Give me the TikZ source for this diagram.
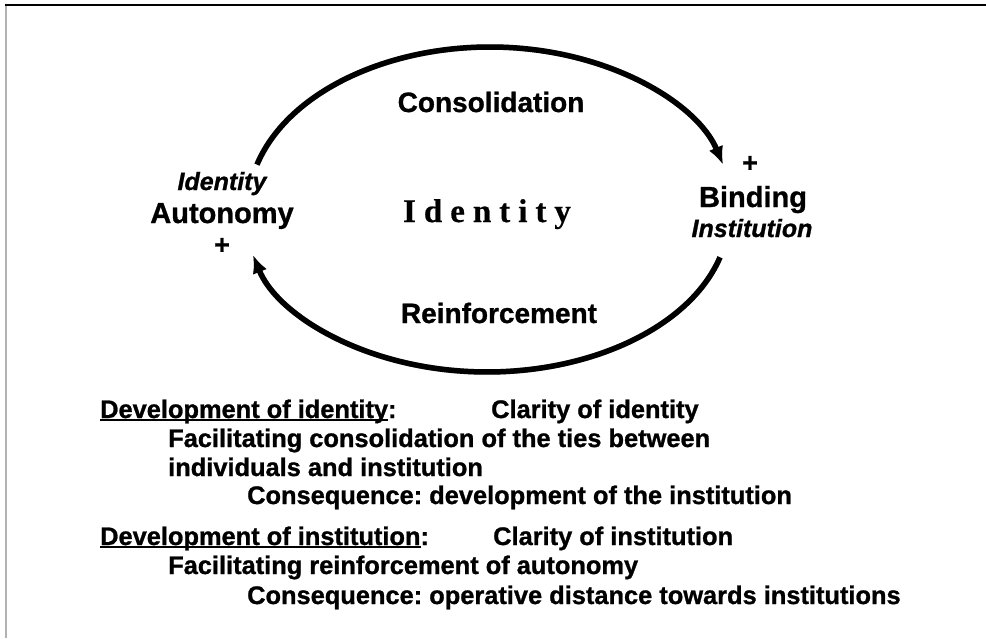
\documentclass[tikz,border=0pt]{standalone}
\usepackage{fontspec}
\setmainfont{Liberation Sans}
\newfontfamily\heavysans[FakeBold=1]{Liberation Sans}
\newfontfamily\idserif[FakeBold=0.5]{Liberation Serif}
\usetikzlibrary{arrows.meta}
\frenchspacing
% underline that sits just under the baseline, crossing the descenders
\newcommand\baseul[1]{\setbox0\hbox{#1}\rlap{\rule[-3pt]{\wd0}{1.8pt}}\box0}
% widely spaced serif word
\newcommand\widespaced[1]{\spaceskip=8pt\relax #1}
\begin{document}
\begin{tikzpicture}[x=1pt,y=-1pt,
  lbl/.style={font=\heavysans\fontsize{28}{30}\selectfont\bfseries, inner sep=0pt, anchor=base},
  big/.style={lbl, font=\heavysans\fontsize{29}{31}\selectfont\bfseries},
  ital/.style={font=\heavysans\fontsize{25}{27}\selectfont\bfseries\itshape, inner sep=0pt, anchor=base},
  plus/.style={font=\heavysans\fontsize{27}{28}\selectfont\bfseries, inner sep=0pt},
  body/.style={font=\heavysans\fontsize{25.4}{28}\selectfont\bfseries, inner sep=0pt, anchor=base west},
  loop/.style={line width=5.5pt, -{Latex[length=18pt,width=15pt]}},
  loopshadow/.style={loop, draw=gray!60, shift={(3,2.5)}},
]
\useasboundingbox (0,0) rectangle (986,638);
% frame edges
\draw[gray!60, line width=2pt] (6,5) -- (6,638);
\draw[black, line width=1.6pt] (5,5) -- (986,5);

% ends of the two loop arcs
\coordinate (cs) at (257,164.6);
\coordinate (rs) at (720,257.3);

% consolidation arc (upper) and reinforcement arc (lower)
\draw[loopshadow] (cs) arc[start angle=195.65, end angle=344.35, x radius=242, y radius=161];
\draw[loop] (cs) arc[start angle=195.65, end angle=344.35, x radius=242, y radius=161];
\draw[loopshadow] (rs) arc[start angle=15.65, end angle=165.2, x radius=242, y radius=157];
\draw[loop] (rs) arc[start angle=15.65, end angle=165.2, x radius=242, y radius=157];

% loop labels
\node[lbl] (cons) at (491,112) {Consolidation};
\node[lbl] (reinf) at (499,323) {Reinforcement};
\node[ital] (idlbl) at (222,190) {Identity};
\node[big] (auto) at (222,223) {Autonomy};
\node[plus] (plusL) at (222,246) {+};
\node[inner sep=0pt, anchor=base, font=\idserif\fontsize{33}{35}\selectfont\bfseries] (idc) at (487,222) {\widespaced{I d e n t i t y}};
\node[plus] (plusR) at (750,164) {+};
\node[big] (bind) at (753,207) {Binding};
\node[ital] (inst) at (752,237) {Institution};

% explanatory text
\node[body] (l1) at (100,418) {\baseul{Development of identity}:};
\node[body] (l1b) at (491,418) {Clarity of identity};
\node[body] (l2) at (168,447) {Facilitating consolidation of the ties between};
\node[body] (l3) at (168,476) {individuals and institution};
\node[body] (l4) at (247,504) {Consequence: development of the institution};
\node[body] (l5) at (100,545) {\baseul{Development of institution}:};
\node[body] (l5b) at (493,545) {Clarity of institution};
\node[body] (l6) at (168,574) {Facilitating reinforcement of autonomy};
\node[body] (l7) at (247,604) {Consequence: operative distance towards institutions};
\end{tikzpicture}
\end{document}
